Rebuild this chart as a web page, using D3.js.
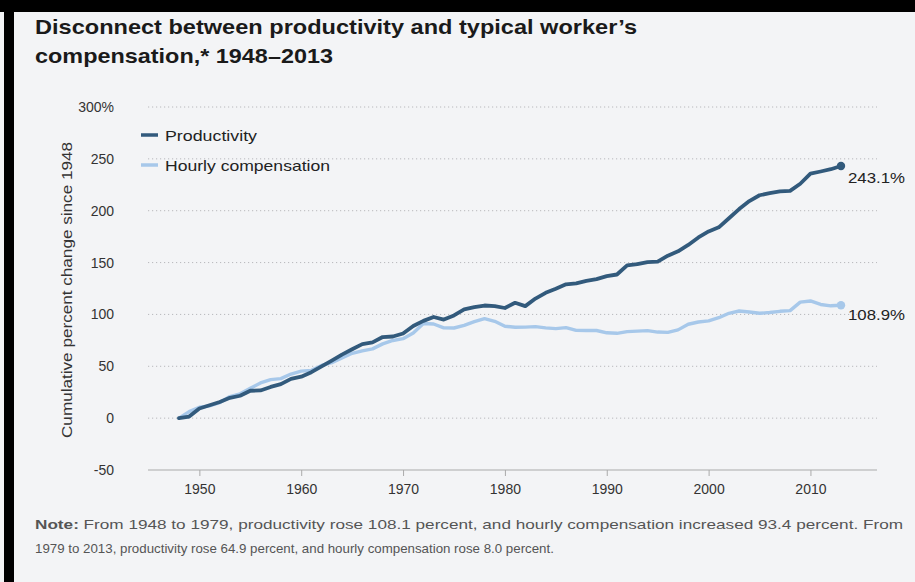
<!DOCTYPE html>
<html><head><meta charset="utf-8">
<script src="https://cdn.jsdelivr.net/npm/d3@7"></script>
<style>
html,body{margin:0;padding:0;background:#f3f4f6;}
svg{display:block;font-family:"Liberation Sans",Arial,Helvetica,sans-serif;}
</style></head>
<body>
<svg id="chart" width="915" height="582"></svg>
<script>
const years = d3.range(1948, 2014);
const productivity = [0,1.5,9.3,12.4,15.6,19.6,21.6,26.4,26.7,30.1,32.8,37.9,40.0,44.3,49.9,55.5,61.3,66.4,71.4,73.0,78.2,78.7,81.6,88.8,93.8,97.5,95.0,99.0,104.8,107.0,108.6,108.1,106.2,111.2,108.0,115.3,120.8,124.7,129.0,129.9,132.3,134.1,137.0,138.5,147.3,148.5,150.5,150.9,156.6,160.9,167.0,174.2,180.0,184.0,192.7,201.6,209.3,214.9,216.9,218.6,219.1,226.0,235.8,237.8,240.0,243.1];
const compensation = [0,6.3,10.5,11.8,15.0,20.8,23.5,28.7,33.9,37.1,38.1,42.5,45.3,46.1,50.8,53.5,58.0,62.5,64.9,66.8,71.6,74.9,76.6,82.0,91.3,90.8,87.0,86.9,89.4,93.0,96.0,93.4,88.6,87.6,87.8,88.2,87.0,86.3,87.3,84.6,84.5,84.5,82.3,81.8,83.4,83.9,84.4,83.0,82.7,85.1,90.5,92.7,93.8,96.8,101.1,103.3,102.3,101.1,101.8,103.0,103.7,111.9,113.0,109.6,108.3,108.9];
const seriesNames = ["Productivity","Hourly compensation"];
const yTicks = [-50,0,50,100,150,200,250,300];
const xTicks = [1950,1960,1970,1980,1990,2000,2010];
const endLabels = ["243.1%","108.9%"];
const title = ["Disconnect between productivity and typical worker\u2019s","compensation,* 1948\u20132013"];
const yLabel = "Cumulative percent change since 1948";
const noteLines = [["Note:"," From 1948 to 1979, productivity rose 108.1 percent, and hourly compensation increased 93.4 percent. From"],["","1979 to 2013, productivity rose 64.9 percent, and hourly compensation rose 8.0 percent."]];

const colors = ["#325a7c","#a7c8ea"];
const svg = d3.select("#chart");

// frame
svg.append("rect").attr("x",0).attr("y",0).attr("width",915).attr("height",582).attr("fill","#f3f4f6");
svg.append("rect").attr("x",0).attr("y",0).attr("width",915).attr("height",12).attr("fill","#000");
svg.append("rect").attr("x",4).attr("y",0).attr("width",10).attr("height",582).attr("fill","#000");

const x = d3.scaleLinear().domain([1948,2013]).range([179,841]);
const y = d3.scaleLinear().domain([-50,300]).range([470,107]);
const gx0 = 148, gx1 = 877;

// title
const titleW = [602, 298];
svg.append("g").selectAll("text").data(title).join("text")
  .attr("x",35).attr("y",(d,i)=>34+i*29)
  .attr("font-size",20.5).attr("font-weight","bold").attr("fill","#1a1a1a")
  .attr("textLength",(d,i)=>titleW[i]).attr("lengthAdjust","spacingAndGlyphs")
  .text(d=>d);

// gridlines
svg.append("g").selectAll("line").data(yTicks.filter(t=>t>-50)).join("line")
  .attr("x1",gx0).attr("x2",gx1).attr("y1",d=>y(d)).attr("y2",d=>y(d))
  .attr("stroke","#b8b8bc").attr("stroke-width",1).attr("stroke-dasharray","1.2,2.8");

// baseline axis
svg.append("line").attr("x1",gx0).attr("x2",gx1).attr("y1",y(-50)).attr("y2",y(-50))
  .attr("stroke","#aaa").attr("stroke-width",1.2);

// y tick labels
svg.append("g").selectAll("text").data(yTicks).join("text")
  .attr("x",114).attr("y",d=>y(d)+5).attr("text-anchor","end")
  .attr("font-size",14).attr("fill","#333")
  .text(d=>d===300?"300%":d);

// x axis ticks
const xAxis = d3.axisBottom(x).tickValues(xTicks).tickFormat(d3.format("d")).tickSize(6).tickPadding(8);
const gxA = svg.append("g").attr("transform",`translate(0,${y(-50)})`).call(xAxis);
gxA.select(".domain").remove();
gxA.selectAll(".tick line").attr("stroke","#aaa");
gxA.selectAll(".tick text").attr("font-size",14).attr("fill","#333").attr("font-family","Liberation Sans, Arial, sans-serif");

// y label
svg.append("text").attr("transform",`translate(72,${290}) rotate(-90)`)
  .attr("text-anchor","middle").attr("font-size",14.5).attr("fill","#333")
  .attr("textLength",296).attr("lengthAdjust","spacingAndGlyphs").text(yLabel);

// lines
const data = [productivity, compensation];
const line = d3.line().x((d,i)=>x(years[i])).y(d=>y(d)).curve(d3.curveLinear);
[1,0].forEach(k=>{
  svg.append("path").datum(data[k]).attr("d",line).attr("fill","none")
    .attr("stroke",colors[k]).attr("stroke-width",k===0?3.8:3.4)
    .attr("stroke-linejoin","round").attr("stroke-linecap","round");
  const last = data[k][data[k].length-1];
  svg.append("circle").attr("cx",x(2013)).attr("cy",y(last)).attr("r",4.2).attr("fill",colors[k]);
  svg.append("text").attr("x",x(2013)+7).attr("y",y(last)+(k===0?17:15))
    .attr("font-size",15.5).attr("fill","#222")
    .attr("textLength",57).attr("lengthAdjust","spacingAndGlyphs").text(endLabels[k]);
});

// legend
const legW = [92, 165];
const lg = svg.append("g").selectAll("g").data(seriesNames).join("g")
  .attr("transform",(d,i)=>`translate(141,${135+i*30})`);
lg.append("line").attr("x1",0).attr("x2",17).attr("y1",0).attr("y2",0)
  .attr("stroke",(d,i)=>colors[i]).attr("stroke-width",3.5);
lg.append("text").attr("x",24).attr("y",5.5).attr("font-size",15).attr("fill","#222")
  .attr("textLength",(d,i)=>legW[i]).attr("lengthAdjust","spacingAndGlyphs").text(d=>d);

// note
const nt = svg.append("g").selectAll("text").data(noteLines).join("text")
  .attr("x",35).attr("y",(d,i)=>529+i*24).attr("font-size",13.3).attr("fill","#555");
nt.append("tspan").attr("font-weight","bold").text(d=>d[0]);
nt.append("tspan").text(d=>d[1]);
nt.filter((d,i)=>i===0).attr("textLength",868).attr("lengthAdjust","spacingAndGlyphs");
</script>
</body></html>
